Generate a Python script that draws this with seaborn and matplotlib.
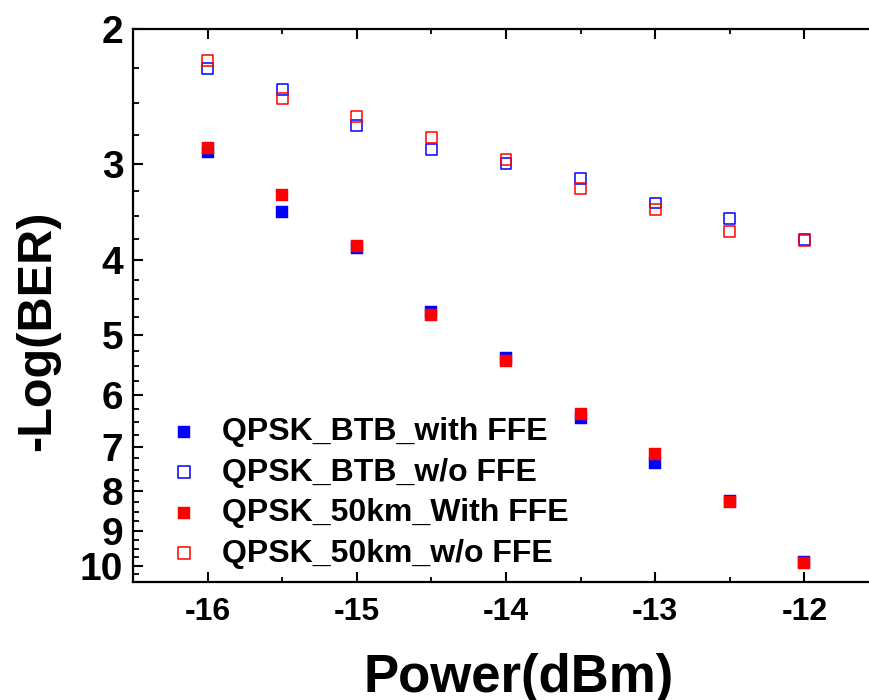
import numpy as np
import pandas as pd
import matplotlib
matplotlib.use("Agg")
import matplotlib.pyplot as plt
import matplotlib.ticker as mticker
import seaborn as sns

# ---- data ----
power = [-16, -15.5, -15, -14.5, -14, -13.5, -13, -12.5, -12]
btb_ffe = [2.89, 3.46, 3.86, 4.67, 5.36, 6.42, 7.34, 8.23, 9.89]
btb_noffe = [2.25, 2.40, 2.67, 2.87, 2.99, 3.13, 3.37, 3.53, 3.76]
km50_ffe = [2.86, 3.29, 3.83, 4.71, 5.42, 6.34, 7.16, 8.26, 9.93]
km50_noffe = [2.20, 2.46, 2.60, 2.77, 2.96, 3.23, 3.44, 3.67, 3.77]
labels = ["QPSK_BTB_with FFE", "QPSK_BTB_w/o FFE",
          "QPSK_50km_With FFE", "QPSK_50km_w/o FFE"]
yticks = [2, 3, 4, 5, 6, 7, 8, 9, 10]
xticks = [-16, -15, -14, -13, -12]

sns.set_style("ticks")
plt.rcParams["font.family"] = ["Liberation Sans", "DejaVu Sans"]
plt.rcParams["font.weight"] = "bold"
for k in ["text.color", "axes.labelcolor", "xtick.color", "ytick.color"]:
    plt.rcParams[k] = "black"

fig = plt.figure(figsize=(8.69, 7.0), dpi=100)
W, H = 869, 700
ax = fig.add_axes([133 / W, (H - 582) / H, 746 / W, 553 / H])

series = [
    (btb_ffe, "#0000FF", True),
    (btb_noffe, "#0000FF", False),
    (km50_ffe, "#FF0000", True),
    (km50_noffe, "#FF0000", False),
]
for (vals, col, filled), lab in zip(series, labels):
    df = pd.DataFrame({"x": power, "y": vals})
    if filled:
        sns.scatterplot(data=df, x="x", y="y", ax=ax, marker="s", s=68,
                        color=col, edgecolor=col, linewidth=0.3, label=lab)
    else:
        sns.scatterplot(data=df, x="x", y="y", ax=ax, marker="s", s=62,
                        facecolors="none", edgecolor=col, linewidth=1.1,
                        label=lab)

ax.set_yscale("log")
ax.set_ylim(10.5, 2)
ax.set_xlim(-16.5, -11.5)

ax.yaxis.set_major_locator(mticker.FixedLocator(yticks))
ax.yaxis.set_major_formatter(mticker.FixedFormatter([str(t) for t in yticks]))
minor_y = [v for v in np.arange(2.0, 10.51, 0.25) if abs(v - round(v)) > 1e-6 or v > 10.2]
ax.yaxis.set_minor_locator(mticker.FixedLocator(minor_y))
ax.yaxis.set_minor_formatter(mticker.NullFormatter())

ax.xaxis.set_major_locator(mticker.FixedLocator(xticks))
ax.xaxis.set_major_formatter(mticker.FixedFormatter([str(t) for t in xticks]))
ax.xaxis.set_minor_locator(mticker.FixedLocator([-15.5, -14.5, -13.5, -12.5]))

for side in ["left", "bottom", "top", "right"]:
    ax.spines[side].set_linewidth(1.6)
    ax.spines[side].set_color("black")

ax.tick_params(axis="y", which="major", direction="in", length=7, width=1.5,
               labelsize=28, pad=7)
ax.tick_params(axis="y", which="minor", direction="in", length=4, width=1.3)
ax.tick_params(axis="x", which="major", direction="in", length=7, width=1.5,
               labelsize=23, pad=11, top=True)
ax.tick_params(axis="x", which="minor", direction="in", length=3.5, width=1.3,
               top=True)

ax.set_xlabel("Power(dBm)", fontsize=38, fontweight="bold")
ax.set_ylabel("-Log(BER)", fontsize=35, fontweight="bold")
ax.xaxis.label.set_va("baseline")
ax.xaxis.set_label_coords((519 - 133) / 746, (582 - 692) / 553)
ax.yaxis.label.set_va("center")
ax.yaxis.set_label_coords((38 - 133) / 746, (582 - 331) / 553)

leg = ax.legend(loc="upper left", bbox_to_anchor=(168 / W, 1 - 417 / H),
                bbox_transform=fig.transFigure, frameon=False, fontsize=23,
                handlelength=1.0, handletextpad=0.7, labelspacing=0.33,
                borderpad=0, borderaxespad=0, markerscale=1.05)
for t in leg.get_texts():
    t.set_fontweight("bold")

fig.savefig("out.png", dpi=100)
